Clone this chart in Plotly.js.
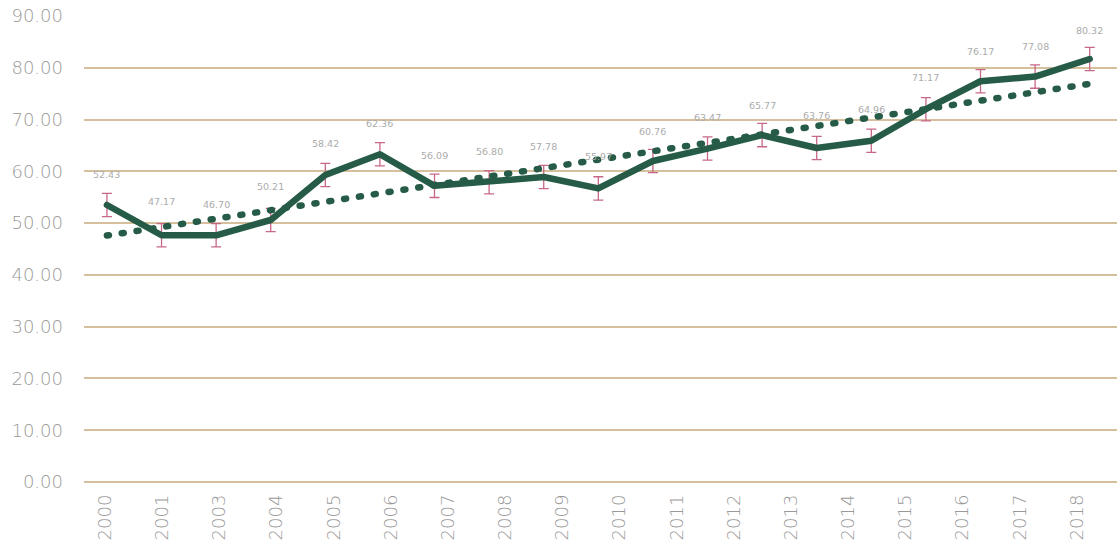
<!DOCTYPE html>
<html>
<head>
<meta charset="utf-8">
<script src="https://cdn.plot.ly/plotly-3.0.1.min.js"></script>
<style>
html,body{margin:0;padding:0;background:#fff;}
#chart{width:1117px;height:543px;}
#chart path.js-line{stroke-linecap:round;stroke-linejoin:round;}
</style>
</head>
<body>
<div id="chart"></div>
<script>
// Years behind the 19 plotted points
const dataYears = ['2000','2001','2002','2003','2004','2005','2006','2007','2008','2009','2010','2011','2012','2013','2014','2015','2016','2017','2018'];
// Tick labels printed under the axis (2002 is not printed in the source)
const tickLabels = ['2000','2001','2003','2004','2005','2006','2007','2008','2009','2010','2011','2012','2013','2014','2015','2016','2017','2018'];
// Values printed as data labels
const labelValues = [52.43,47.17,46.70,50.21,58.42,62.36,56.09,56.80,57.78,55.97,60.76,63.47,65.77,63.76,64.96,71.17,76.17,77.08,80.32];
// Where the solid line is drawn
const lineValues = [53.5,47.65,47.65,50.6,59.3,63.3,57.2,57.9,58.9,56.7,62.0,64.4,67.0,64.5,65.9,72.0,77.4,78.3,81.7];
// Error margin (±) shown on each point
const errorMargin = [2.25,2.25,2.25,2.25,2.25,2.25,2.25,2.25,2.25,2.25,2.25,2.25,2.25,2.25,2.25,2.25,2.25,2.25,2.25];
// Dotted linear trend, start and end
const trendYears = ['2000','2018'];
const trendValues = [47.6,76.9];
</script>
<script>
const FONT = 'DejaVu Sans';
const GREY = '#999999';
const GRID = '#D6BF9C';
const GREEN = '#265C47';

const traces = [
  {
    type: 'scatter', mode: 'lines',
    x: dataYears, y: lineValues,
    xaxis: 'x', yaxis: 'y',
    line: {color: GREEN, width: 6.5},
    error_y: {type: 'data', array: errorMargin, visible: true, color: '#C7678A', thickness: 1.3, width: 5},
    hoverinfo: 'skip', showlegend: false
  },
  {
    type: 'scatter', mode: 'lines',
    x: trendYears, y: trendValues,
    xaxis: 'x', yaxis: 'y',
    line: {color: GREEN, width: 6.5, dash: '2px,13px'},
    hoverinfo: 'skip', showlegend: false
  },
  {
    type: 'scatter', mode: 'markers',
    x: tickLabels, y: tickLabels.map(() => 0),
    xaxis: 'x2', yaxis: 'y',
    marker: {opacity: 0, size: 1},
    hoverinfo: 'skip', showlegend: false
  }
];

const annotations = dataYears.map((yr, i) => ({
  x: i, y: labelValues[i], xref: 'x', yref: 'y',
  text: labelValues[i].toFixed(2), showarrow: false,
  xanchor: 'center', yanchor: 'middle',
  yshift: 36,
  font: {family: FONT, size: 9.5, color: '#ABABAB'}
}));

const layout = {
  width: 1117, height: 543,
  margin: {l: 84, r: 0, t: 16, b: 61, pad: 0},
  paper_bgcolor: '#ffffff', plot_bgcolor: '#ffffff',
  showlegend: false,
  font: {family: FONT, color: GREY, size: 18},
  xaxis: {
    type: 'category', categoryorder: 'array', categoryarray: dataYears,
    range: [-0.42, 18.5],
    showticklabels: false, showgrid: false, zeroline: false, showline: false, ticks: ''
  },
  xaxis2: {
    type: 'category', categoryorder: 'array', categoryarray: tickLabels,
    overlaying: 'x', anchor: 'y', side: 'bottom',
    range: [-0.37, 17.7],
    tickangle: -90, showgrid: false, zeroline: false, showline: false, ticks: '',
    ticklabelstandoff: 8,
    tickfont: {family: FONT, size: 18, color: GREY, weight: 300}
  },
  yaxis: {
    range: [0, 90], dtick: 10, tick0: 0, tickformat: '.2f',
    showgrid: true, gridcolor: GRID, gridwidth: 2,
    zeroline: true, zerolinecolor: GRID, zerolinewidth: 2,
    showline: false, ticks: '',
    ticklabelstandoff: 20,
    tickfont: {family: FONT, size: 18, color: GREY, weight: 300}
  },
  annotations: annotations
};

Plotly.newPlot('chart', traces, layout, {displayModeBar: false});
</script>
</body>
</html>
